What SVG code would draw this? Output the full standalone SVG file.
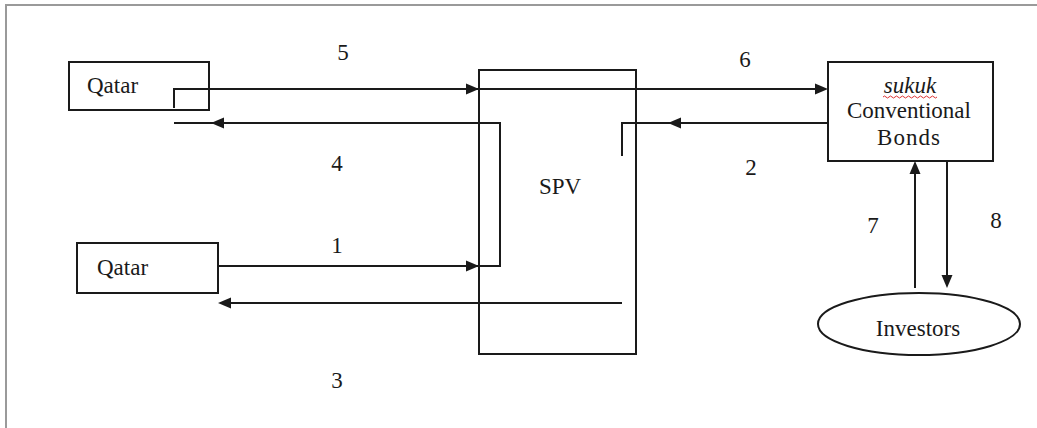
<svg xmlns="http://www.w3.org/2000/svg" width="1037" height="428" viewBox="0 0 1037 428">
<style>
.box{fill:#fff;stroke:#1a1a1a;stroke-width:2}
.ln{fill:none;stroke:#1a1a1a;stroke-width:2}
.t{font-family:"Liberation Serif","Times New Roman",serif;font-size:23px;fill:#1a1a1a}
.ah{fill:#1a1a1a}
</style>
<rect width="1037" height="428" fill="#fff"/>
<path d="M6,428 V5 H1037" fill="none" stroke="#9a9a9a" stroke-width="2"/>
<g id="qatar-top">
<rect class="box" x="69" y="62" width="140" height="48"/>
<text class="t" x="87" y="93">Qatar</text>
</g>
<g id="qatar-bottom">
<rect class="box" x="77" y="243" width="141" height="50"/>
<text class="t" x="97" y="275">Qatar</text>
</g>
<g id="spv">
<rect class="box" x="479" y="70" width="157" height="284"/>
<text class="t" x="560" y="194" text-anchor="middle">SPV</text>
</g>
<g id="bonds">
<rect class="box" x="828" y="62" width="165" height="99"/>
<text class="t" x="910" y="93" text-anchor="middle" font-style="italic">sukuk</text>
<path d="M883,97 q1.5,-2 3,0 t3,0 t3,0 t3,0 t3,0 t3,0 t3,0 t3,0 t3,0 t3,0 t3,0 t3,0 t3,0 t3,0 t3,0 t3,0 t3,0 t3,0" fill="none" stroke="#d33" stroke-width="1"/>
<text class="t" x="909" y="118" text-anchor="middle">Conventional</text>
<text class="t" x="909" y="145" text-anchor="middle" letter-spacing="1">Bonds</text>
</g>
<g id="investors">
<ellipse class="box" cx="919" cy="324" rx="101" ry="31"/>
<text class="t" x="918" y="336" text-anchor="middle" font-size="25">Investors</text>
</g>
<g id="connectors">
<path class="ln" d="M174,108 V89 H815"/>
<polygon class="ah" points="479,89 466,83.5 466,94.5"/>
<polygon class="ah" points="828,89 815,83.5 815,94.5"/>
<path class="ln" d="M218,266 H500 V123 H174"/>
<polygon class="ah" points="479,266 466,260.5 466,271.5"/>
<polygon class="ah" points="211,123 224,117.5 224,128.5"/>
<path class="ln" d="M622,156 V123 H828"/>
<polygon class="ah" points="668,123 681,117.5 681,128.5"/>
<path class="ln" d="M622,303 H230"/>
<polygon class="ah" points="218,303 231,297.5 231,308.5"/>
<path class="ln" d="M915,288 V173"/>
<polygon class="ah" points="915,161 909.5,174 920.5,174"/>
<path class="ln" d="M947,161 V276"/>
<polygon class="ah" points="947,288 941.5,275 952.5,275"/>
</g>
<g id="labels">
<text class="t" x="343" y="60" text-anchor="middle">5</text>
<text class="t" x="337" y="171" text-anchor="middle">4</text>
<text class="t" x="337" y="253" text-anchor="middle">1</text>
<text class="t" x="337" y="388" text-anchor="middle">3</text>
<text class="t" x="745" y="67" text-anchor="middle">6</text>
<text class="t" x="751" y="175" text-anchor="middle">2</text>
<text class="t" x="873" y="233" text-anchor="middle">7</text>
<text class="t" x="996" y="228" text-anchor="middle">8</text>
</g>
</svg>
